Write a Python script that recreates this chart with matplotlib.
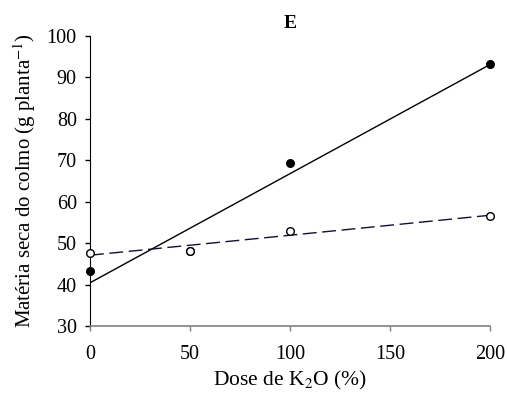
import numpy as np
import matplotlib.pyplot as plt

plt.rcParams['font.family'] = 'Liberation Serif'
plt.rcParams['mathtext.fontset'] = 'stix'

dose = np.array([0, 50, 100, 200])
filled_vals = np.array([43.3, 48.0, 69.4, 93.2])
open_vals = np.array([47.5, 48.2, 53.0, 56.5])

fig = plt.figure(figsize=(5.07, 3.98), dpi=100)
ax = fig.add_axes([0.1775, 0.181, 0.789, 0.7285])

xx = np.array([0, 200])
p1 = np.polyfit(dose, filled_vals, 1)
p2 = np.polyfit(dose, open_vals, 1)
ax.plot(xx, np.polyval(p1, xx), color='black', lw=1, zorder=2)
ax.plot(xx, np.polyval(p2, xx), color='#10103a', lw=1, dashes=(10, 4), zorder=2)

ax.plot(dose, filled_vals, 'o', color='black', ms=5.5, clip_on=False, zorder=3)
ax.plot(dose, open_vals, 'o', mfc='white', mec='black', mew=1, ms=5.5, clip_on=False, zorder=4)

ax.set_xlim(0, 200)
ax.set_ylim(30, 100)
ax.set_xticks([0, 50, 100, 150, 200])
ax.set_yticks(range(30, 101, 10))
ax.tick_params(labelsize=14.5, direction='out', length=3.5, width=1, pad=6)
ax.tick_params(axis='x', color='#808080', pad=10)
ax.spines['top'].set_visible(False)
ax.spines['right'].set_visible(False)
ax.spines['bottom'].set_color('#808080')
ax.spines['bottom'].set_linewidth(1.2)
ax.spines['left'].set_color('black')

ax.set_xlabel('Dose de K$_2$O (%)', fontsize=15.5, labelpad=4)
ax.set_ylabel('Matéria seca do colmo (g planta$^{-1}$)', fontsize=15, labelpad=6)
ax.set_title('E', fontsize=14, fontweight='bold', pad=6)

fig.savefig('out.png', dpi=100)
